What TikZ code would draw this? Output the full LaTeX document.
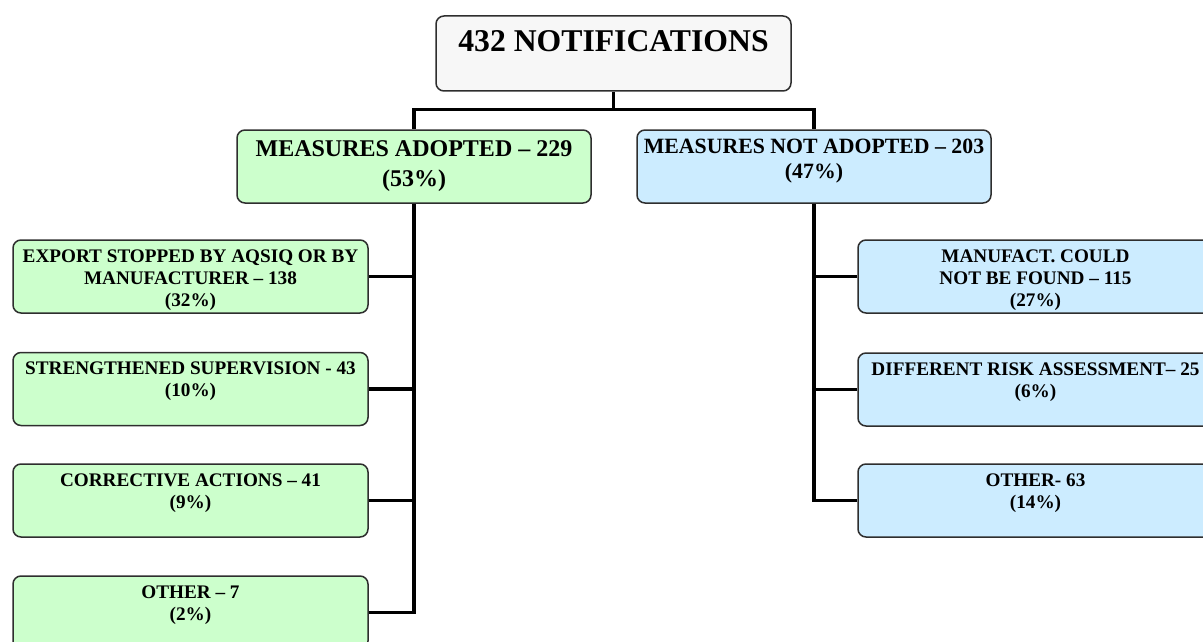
\documentclass[tikz,border=0pt]{standalone}
\usepackage{fontspec}
\setmainfont{Liberation Serif}
\definecolor{rootgray}{HTML}{F7F7F7}
\definecolor{adoptgreen}{HTML}{CCFFCC}
\definecolor{notblue}{HTML}{CCECFF}
\definecolor{boxline}{HTML}{2E2E2E}
\begin{document}
\begin{tikzpicture}[x=1pt, y=-1pt,
    box/.style={draw=boxline, line width=1.5pt, rounded corners=8pt, align=center, font=\bfseries, inner sep=0pt},
    rootbox/.style={box, fill=rootgray, minimum width=355pt, minimum height=75pt, font=\bfseries\fontsize{31.7}{36}\selectfont, text height=22pt, text depth=25pt},
    midbox/.style={box, minimum width=354pt, minimum height=73pt},
    leafbox/.style={box, minimum width=355pt, minimum height=73pt, font=\bfseries\fontsize{19.2}{22}\selectfont, text height=40pt, text depth=25pt},
    tallleaf/.style={leafbox, text height=62pt, text depth=3pt},
    link/.style={line width=3.3pt}]
  \useasboundingbox (0,0) rectangle (1203,642);
  \clip (0,0) rectangle (1203,642);
  \node[rootbox] (root) at (613.5,53.5) {432 NOTIFICATIONS};
  \node[midbox, fill=adoptgreen, font=\bfseries\fontsize{24}{30}\selectfont, text height=44pt, text depth=5pt] (adopt) at (414,166.5) {MEASURES ADOPTED -- 229\\(53\%)};
  \node[midbox, fill=notblue, font=\bfseries\fontsize{21.8}{25}\selectfont, text height=30pt, text depth=7pt] (notadopt) at (814,166.5) {MEASURES NOT ADOPTED -- 203\\(47\%)};
  \node[tallleaf, fill=adoptgreen] (a1) at (190.5,276.5) {EXPORT STOPPED BY AQSIQ OR BY\\MANUFACTURER -- 138\\(32\%)};
  \node[leafbox, fill=adoptgreen] (a2) at (190.5,389) {STRENGTHENED SUPERVISION - 43\\(10\%)};
  \node[leafbox, fill=adoptgreen] (a3) at (190.5,500.5) {CORRECTIVE ACTIONS -- 41\\(9\%)};
  \node[leafbox, fill=adoptgreen] (a4) at (190.5,612.5) {OTHER -- 7\\(2\%)};
  \node[tallleaf, fill=notblue] (n1) at (1035.5,276.5) {MANUFACT. COULD\\NOT BE FOUND -- 115\\(27\%)};
  \node[leafbox, fill=notblue] (n2) at (1035.5,389.5) {DIFFERENT RISK ASSESSMENT-- 25\\(6\%)};
  \node[leafbox, fill=notblue] (n3) at (1035.5,500.5) {OTHER- 63\\(14\%)};
  \draw[link] (root.south) -- ++(0,18) coordinate (fork);
  \draw[link] (fork) -| (adopt.north);
  \draw[link] (fork) -| (notadopt.north);
  \foreach \n in {1,2,3,4} \draw[link] (a\n.east) -| (adopt.south);
  \foreach \n in {1,2,3} \draw[link] (n\n.west) -| (notadopt.south);
\end{tikzpicture}
\end{document}
